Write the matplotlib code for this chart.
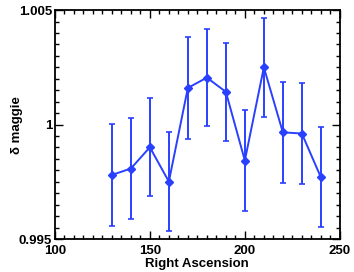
import matplotlib
matplotlib.use("Agg")
import matplotlib.pyplot as plt
from matplotlib.ticker import MultipleLocator, FixedLocator

ra = [130, 140, 150, 160, 170, 180, 190, 200, 210, 220, 230, 240]
maggie = [0.99780, 0.99808, 0.99901, 0.99751, 1.00160, 1.00205, 1.00143,
          0.99843, 1.00250, 0.99966, 0.99961, 0.99770]
err = [0.00222, 0.00220, 0.00215, 0.00215, 0.00221, 0.00212, 0.00215,
       0.00222, 0.00216, 0.00221, 0.00222, 0.00218]

plt.rcParams['font.family'] = ['Liberation Sans', 'DejaVu Sans']
plt.rcParams['font.weight'] = 'bold'

fig = plt.figure(figsize=(3.54, 2.72), dpi=100)
ax = fig.add_axes([0.155, 0.121, 0.805, 0.842])

blue = '#2a40ff'
ax.errorbar(ra, maggie, yerr=err, color=blue, lw=1.4, marker='D', ms=3.8,
            capsize=2.5, elinewidth=1.4, capthick=1.2)

ax.set_xlim(100, 250)
ax.set_ylim(0.995, 1.005)
ax.xaxis.set_major_locator(MultipleLocator(50))
ax.xaxis.set_minor_locator(MultipleLocator(5))
ax.yaxis.set_major_locator(FixedLocator([0.995, 1.0, 1.005]))
ax.yaxis.set_minor_locator(MultipleLocator(0.0005))
ax.set_yticklabels(['0.995', '1', '1.005'])

ax.tick_params(which='both', direction='in', top=True, right=True,
               labelsize=9.5, width=1.0)
ax.tick_params(axis='x', pad=4)
ax.tick_params(axis='y', pad=2)
ax.tick_params(which='major', length=6)
ax.tick_params(which='minor', length=3)
for s in ax.spines.values():
    s.set_linewidth(1.3)

ax.set_xlabel('Right Ascension', fontsize=9.5, fontweight='bold', labelpad=1)
ax.set_ylabel('δ maggie', fontsize=9.5, fontweight='bold', labelpad=-3)

fig.savefig('out.png', dpi=100)
